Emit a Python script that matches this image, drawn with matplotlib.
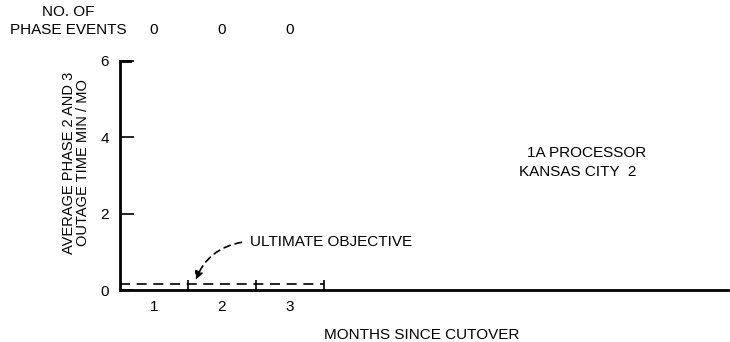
import matplotlib.pyplot as plt
import matplotlib.transforms as mtransforms
from matplotlib.patches import FancyArrowPatch

plt.rcParams['font.family'] = ['Liberation Sans', 'DejaVu Sans']

# dane
months = [1, 2, 3]
outage = [0, 0, 0]
phase_events = [0, 0, 0]
objective = 0.15
y_ticks = [0, 2, 4, 6]

fig = plt.figure(figsize=(7.3, 3.42), dpi=100)
ax = fig.add_axes([0.1644, 0.152, 0.8326, 0.67])

ax.bar(months, outage, width=1.0, color='black')

# linia celu i podzialki miesiecy
last = months[-1] + 0.5
ax.plot([0.5, last], [objective, objective], color='black', lw=1.2, dashes=(6, 4))
ax.vlines([m + 0.5 for m in months], 0, objective + 0.12, color='black', lw=1.2)

ax.set_xlim(0.5, 9.45)
ax.set_ylim(0, 6)
ax.set_yticks(y_ticks)
ax.set_xticks(months)
ax.tick_params(axis='y', direction='in', length=10, width=1.2, labelsize=11, pad=8)
ax.tick_params(axis='x', length=0, labelsize=11, pad=7)
for s in ['top', 'right']:
    ax.spines[s].set_visible(False)
ax.spines['left'].set_linewidth(2)
ax.spines['bottom'].set_linewidth(2)
ax.plot([0.5, 0.65], [6, 6], color='black', lw=2, clip_on=False)

ax.set_ylabel('AVERAGE PHASE 2 AND 3\nOUTAGE TIME MIN / MO', fontsize=10.5, linespacing=1.0)
ax.yaxis.set_label_coords(-0.05, 0.555)
ax.set_xlabel('MONTHS SINCE CUTOVER', fontsize=11)
ax.xaxis.set_label_coords(0.496, -0.165)

# adnotacja
ax.text(2.41, 1.26, 'ULTIMATE OBJECTIVE', fontsize=11, va='center')
arr = FancyArrowPatch((2.33, 1.26), (1.6, objective + 0.05), connectionstyle='arc3,rad=0.3',
                      arrowstyle='-|>', mutation_scale=12, color='black', lw=1.2, linestyle=(0, (4, 3)))
ax.add_patch(arr)

ax.text(0.768, 0.598, '1A PROCESSOR', transform=ax.transAxes, fontsize=11, ha='center', va='center')
ax.text(0.753, 0.515, 'KANSAS CITY  2', transform=ax.transAxes, fontsize=11, ha='center', va='center')

# liczba zdarzen
trans = mtransforms.blended_transform_factory(ax.transData, fig.transFigure)
for m, n in zip(months, phase_events):
    ax.text(m, 0.912, str(n), transform=trans, fontsize=11, ha='center', va='center')
fig.text(0.093, 0.965, 'NO. OF', fontsize=11, ha='center', va='center')
fig.text(0.093, 0.912, 'PHASE EVENTS', fontsize=11, ha='center', va='center')

fig.savefig('out.png', dpi=100)
